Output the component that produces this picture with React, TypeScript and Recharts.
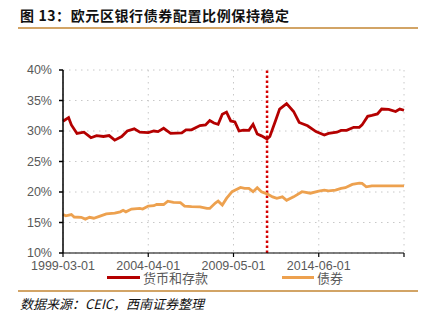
import { LineChart, Line, XAxis, YAxis, CartesianGrid, ReferenceLine } from "recharts"

// month strings
const depositDates = [
  "1999-03", "1999-07", "1999-09", "2000-01", "2000-06", "2000-11", "2001-03", "2001-08",
  "2001-12", "2002-04", "2002-09", "2003-01", "2003-06", "2003-10", "2004-04", "2004-08",
  "2004-11", "2005-03", "2005-08", "2006-04", "2006-07", "2006-11", "2007-05", "2007-09",
  "2007-12", "2008-03", "2008-06", "2008-09", "2008-12", "2009-03", "2009-06", "2009-09",
  "2009-12", "2010-04", "2010-07", "2010-10", "2011-01", "2011-05", "2011-07", "2011-11",
  "2012-02", "2012-07", "2012-12", "2013-04", "2013-10", "2014-04", "2014-10", "2015-01",
  "2015-07", "2015-10", "2016-02", "2016-07", "2016-11", "2017-01", "2017-05", "2017-08",
  "2017-12", "2018-03", "2018-08", "2019-01", "2019-04", "2019-07",
]
const depositValues = [
  31.6, 32.2, 31.0, 29.6, 29.8, 28.9, 29.25, 29.1,
  29.25, 28.5, 29.1, 30.0, 30.35, 29.8, 29.75, 30.0,
  29.9, 30.45, 29.6, 29.7, 30.2, 30.2, 30.9, 31.0,
  31.7, 31.3, 31.1, 32.75, 33.1, 31.65, 31.5, 30.0,
  30.15, 30.1, 31.1, 29.5, 29.2, 28.7, 29.1, 31.65,
  33.6, 34.5, 33.2, 31.4, 30.85, 29.9, 29.35, 29.6,
  29.8, 30.1, 30.1, 30.6, 30.6, 31.0, 32.4, 32.55,
  32.8, 33.6, 33.55, 33.2, 33.6, 33.4,
]

const bondDates = [
  "1999-03", "1999-05", "1999-09", "1999-11", "2000-04", "2000-07", "2000-10", "2001-01",
  "2001-05", "2001-10", "2002-04", "2002-08", "2002-10", "2002-12", "2003-04", "2003-10",
  "2003-12", "2004-04", "2004-08", "2004-10", "2005-03", "2005-06", "2005-10", "2006-03",
  "2006-06", "2006-11", "2007-05", "2007-10", "2007-12", "2008-04", "2008-06", "2008-09",
  "2008-12", "2009-04", "2009-06", "2009-10", "2010-01", "2010-04", "2010-07", "2010-10",
  "2011-01", "2011-05", "2011-09", "2011-12", "2012-04", "2012-07", "2012-12", "2013-06",
  "2013-12", "2014-06", "2014-10", "2015-01", "2015-06", "2015-10", "2016-01", "2016-06",
  "2016-11", "2017-01", "2017-04", "2017-08", "2019-07",
]
const bondValues = [
  16.3, 16.1, 16.3, 15.9, 15.85, 15.55, 15.85, 15.7,
  16.0, 16.4, 16.55, 16.75, 17.0, 16.75, 17.2, 17.3,
  17.2, 17.7, 17.75, 17.95, 17.95, 18.5, 18.3, 18.25,
  17.7, 17.6, 17.55, 17.3, 17.3, 18.2, 18.5, 17.85,
  18.95, 20.05, 20.3, 20.75, 20.6, 20.6, 20.05, 20.7,
  20.05, 19.7, 19.2, 18.95, 19.2, 18.65, 19.2, 20.05,
  19.8, 20.15, 20.3, 20.2, 20.3, 20.6, 20.7, 21.25,
  21.45, 21.4, 20.85, 21.0, 21.0,
]

const xTickDates = ["1999-03", "2004-04", "2009-05", "2014-06", "2019-07"]
const yTicks = [10, 15, 20, 25, 30, 35, 40]
const markerDate = "2011-05"

// months since 1999-03
const toMonth = (d: string) => {
  const [y, m] = d.split("-").map(Number)
  return (y - 1999) * 12 + (m - 3)
}
const fromMonth = (n: number) => {
  const t = n + 2
  const y = 1999 + Math.floor(t / 12)
  const m = (t % 12) + 1
  return `${y}-${String(m).padStart(2, "0")}-01`
}

const depositData = depositDates.map((d, i) => ({ m: toMonth(d), v: depositValues[i] }))
const bondData = bondDates.map((d, i) => ({ m: toMonth(d), v: bondValues[i] }))
const xTicks = xTickDates.map(toMonth)
const lastTick = xTicks[xTicks.length - 1]

const RED = "#b40000"
const ORANGE = "#eda14f"
const GOLD = "#d2a466"
const TXT = "#595959"

export default function App() {
  return (
    <div
      style={{
        position: "absolute",
        left: 0,
        top: 0,
        width: 424,
        height: 321,
        background: "#fff",
        fontFamily: "'Liberation Sans', Arial, sans-serif",
      }}
    >
      <div
        style={{
          position: "absolute",
          left: 20,
          top: 5,
          fontFamily: "'Noto Sans CJK SC', sans-serif",
          fontWeight: 700,
          fontSize: 14,
          letterSpacing: 0.6,
          color: "#111",
          whiteSpace: "nowrap",
        }}
      >
        图 13：欧元区银行债券配置比例保持稳定
      </div>
      <div style={{ position: "absolute", left: 18, top: 27, width: 400, height: 2, background: GOLD }} />

      <div style={{ position: "absolute", left: 0, top: 0 }}>
        <LineChart width={424} height={321} margin={{ top: 70, right: 20, left: 0, bottom: 0 }}>
          <CartesianGrid stroke="#c8c8c8" strokeDasharray="1.5 4.5" strokeWidth={1} />
          <XAxis
            type="number"
            dataKey="m"
            domain={[0, lastTick]}
            ticks={xTicks}
            tickFormatter={(v: number) => (v >= lastTick ? "" : fromMonth(v))}
            height={68}
            stroke="#000"
            strokeWidth={1.2}
            tickSize={4}
            tickMargin={4}
            tick={{ fill: TXT, fontSize: 12.5 }}
            allowDuplicatedCategory={false}
          />
          <YAxis
            type="number"
            domain={[10, 40]}
            ticks={yTicks}
            tickFormatter={(v: number) => `${v}%`}
            width={63}
            stroke="#000"
            strokeWidth={1.5}
            tickSize={4}
            tickMargin={7}
            tick={{ fill: TXT, fontSize: 12.5 }}
          />
          <ReferenceLine x={toMonth(markerDate)} stroke="#d40000" strokeWidth={2.5} strokeDasharray="2.5 2.5" />
          <Line
            data={depositData}
            dataKey="v"
            type="linear"
            stroke={RED}
            strokeWidth={2.8}
            dot={false}
            isAnimationActive={false}
          />
          <Line
            data={bondData}
            dataKey="v"
            type="linear"
            stroke={ORANGE}
            strokeWidth={2.8}
            dot={false}
            isAnimationActive={false}
          />
        </LineChart>
      </div>

      <div style={{ position: "absolute", left: 107, top: 276, width: 33, height: 3, background: RED }} />
      <div
        style={{
          position: "absolute",
          left: 143,
          top: 270,
          fontSize: 13,
          color: TXT,
          fontFamily: "'Noto Sans CJK SC', sans-serif",
          lineHeight: "16px",
        }}
      >
        货币和存款
      </div>
      <div style={{ position: "absolute", left: 282, top: 276, width: 32, height: 3, background: ORANGE }} />
      <div
        style={{
          position: "absolute",
          left: 317,
          top: 270,
          fontSize: 13,
          color: TXT,
          fontFamily: "'Noto Sans CJK SC', sans-serif",
          lineHeight: "16px",
        }}
      >
        债券
      </div>

      <div style={{ position: "absolute", left: 18, top: 290, width: 400, height: 2, background: GOLD }} />
      <div
        style={{
          position: "absolute",
          left: 20,
          top: 295,
          fontSize: 13,
          fontStyle: "italic",
          color: "#111",
          fontFamily: "'Noto Sans CJK SC', sans-serif",
          lineHeight: "17px",
          whiteSpace: "nowrap",
        }}
      >
        数据来源：CEIC，西南证券整理
      </div>
    </div>
  )
}
